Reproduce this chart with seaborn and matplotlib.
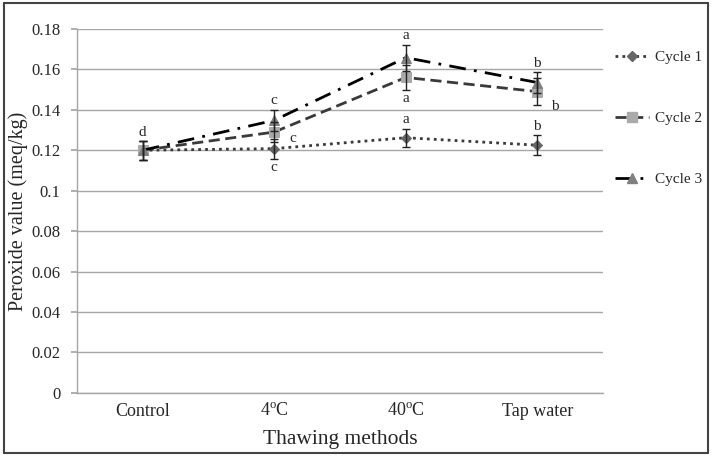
import pandas as pd
import matplotlib.pyplot as plt
import matplotlib.patches as mpatches
import seaborn as sns

# data
methods = ['Control', '4$^{\\mathrm{o}}$C', '40$^{\\mathrm{o}}$C', 'Tap water']
cycle1 = [0.120, 0.1208, 0.1262, 0.1225]
cycle2 = [0.120, 0.129, 0.156, 0.149]
cycle3 = [0.120, 0.1348, 0.1658, 0.1535]
err1 = [0.0046, 0.005, 0.0045, 0.005]
err2 = [0.0046, 0.005, 0.006, 0.0065]
err3 = [0.0046, 0.0053, 0.0064, 0.005]
letters1 = ['', 'c', 'a', 'b']
letters2 = ['', 'c', 'a', 'b']
letters3 = ['d', 'c', 'a', 'b']

sns.set_theme(style="white")
plt.rcParams['font.family'] = ['Liberation Serif', 'DejaVu Serif']
plt.rcParams['mathtext.fontset'] = 'custom'
plt.rcParams['mathtext.rm'] = 'Liberation Serif'

series = {
    'Cycle 1': dict(y=cycle1, err=err1, ls=(0, (1, 1.5)), lc='#3a3a3a', mk='D', mc='#666666', ms=5),
    'Cycle 2': dict(y=cycle2, err=err2, ls=(0, (4, 2)), lc='#3a3a3a', mk='s', mc='#aaaaaa', ms=7),
    'Cycle 3': dict(y=cycle3, err=err3, ls=(0, (6, 3, 1, 3)), lc='#000000', mk='^', mc='#808080', ms=7),
}

fig = plt.figure(figsize=(7.12, 4.59), dpi=100)
ax = fig.add_axes([0.108, 0.144, 0.739, 0.793])

handles = []
for name, s in series.items():
    df = pd.DataFrame({'method': methods, 'value': s['y']})
    sns.lineplot(data=df, x='method', y='value', ax=ax, sort=False,
                 color=s['lc'], linestyle=s['ls'], linewidth=2,
                 marker=s['mk'], markersize=s['ms'], markerfacecolor=s['mc'],
                 markeredgecolor=s['mc'], zorder=3)
    ax.errorbar(range(len(methods)), s['y'], yerr=s['err'], fmt='none',
                ecolor='#222222', elinewidth=1, capsize=3, capthick=1, zorder=4)
    handles.append(plt.Line2D([], [], color=s['lc'], linestyle=s['ls'], linewidth=2,
                              marker=s['mk'], markersize=s['ms'],
                              markerfacecolor=s['mc'], markeredgecolor=s['mc']))

# significance letters
fs = 11
for i in range(len(methods)):
    if letters3[i]:
        ax.text(i, cycle3[i] + err3[i] + 0.0012, letters3[i], ha='center', va='bottom', fontsize=fs)
for i in range(len(methods)):
    if not letters2[i]:
        continue
    if i == 2:
        ax.text(i, cycle2[i] - err2[i] - 0.0012, letters2[i], ha='center', va='top', fontsize=fs)
    elif i == 1:
        ax.text(i + 0.14, cycle2[i] - 0.003, letters2[i], ha='center', va='center', fontsize=fs)
    else:
        ax.text(i + 0.13, cycle2[i] - 0.0075, letters2[i], ha='center', va='center', fontsize=fs)
for i in range(len(methods)):
    if not letters1[i]:
        continue
    if i == 1:
        ax.text(i, cycle1[i] - err1[i] - 0.0012, letters1[i], ha='center', va='top', fontsize=fs)
    else:
        ax.text(i, cycle1[i] + err1[i] + 0.0012, letters1[i], ha='center', va='bottom', fontsize=fs)

ax.set_xlim(-0.5, 3.5)
ax.set_ylim(0, 0.18)
ax.set_yticks([0, 0.02, 0.04, 0.06, 0.08, 0.1, 0.12, 0.14, 0.16, 0.18])
ax.set_yticklabels(['0', '0.02', '0.04', '0.06', '0.08', '0.1', '0.12', '0.14', '0.16', '0.18'])
ax.yaxis.grid(True, color='#a6a6a6', linewidth=1)
ax.set_axisbelow(True)
for side in ['top', 'right']:
    ax.spines[side].set_visible(False)
for side in ['left', 'bottom']:
    ax.spines[side].set_color('#a6a6a6')
    ax.spines[side].set_linewidth(1)
ax.tick_params(axis='y', which='major', length=4, color='#a6a6a6', left=True, labelsize=12, pad=8)
ax.tick_params(axis='x', length=0, labelsize=13, pad=7)
ax.set_xlabel('Thawing methods', fontsize=15.5, labelpad=7)
ax.set_ylabel('Peroxide value (meq/kg)', fontsize=14.5, labelpad=2)

fig.legend(handles, list(series.keys()), loc='upper left', bbox_to_anchor=(0.845, 0.92),
           frameon=False, fontsize=11, labelspacing=3.1, handlelength=2.2,
           handletextpad=0.4, borderpad=0.4)

# outer border of the figure
fig.patches.append(mpatches.Rectangle((0.005, 0.012), 0.989, 0.981, transform=fig.transFigure,
                                      fill=False, edgecolor='#444444', linewidth=1.5))

plt.savefig('out.png', dpi=100)
plt.close()
